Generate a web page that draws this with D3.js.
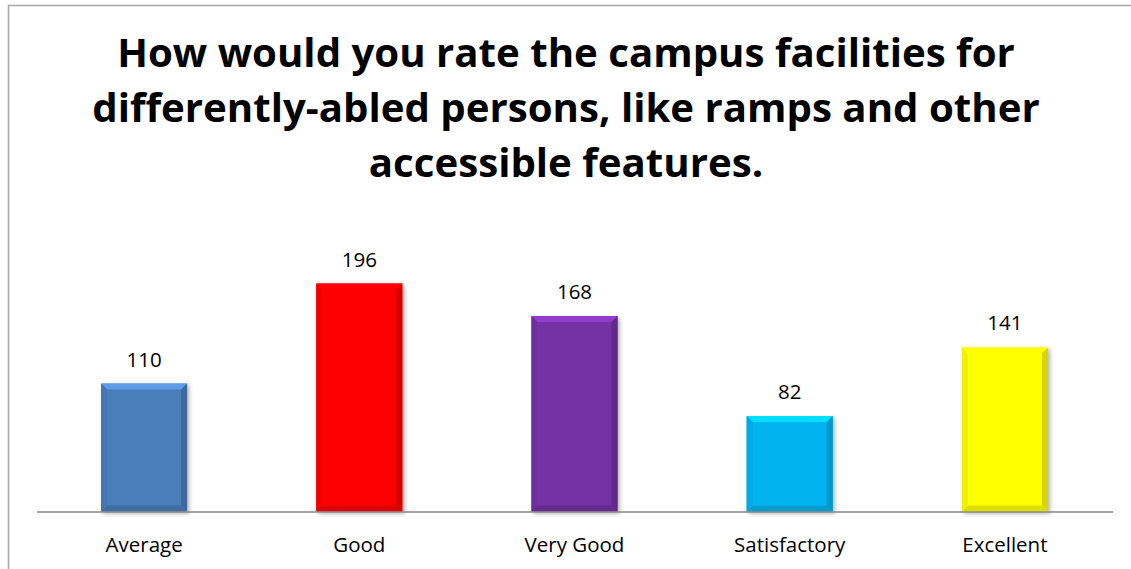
<!DOCTYPE html>
<html><head><meta charset="utf-8">
<script src="https://cdn.jsdelivr.net/npm/d3@7"></script>
<style>html,body{margin:0;padding:0;background:#fff;}svg{display:block;}</style>
</head><body>
<svg id="c" width="1131" height="569"></svg>
<script>
const titleLines = ["How would you rate the campus facilities for", "differently-abled persons, like ramps and other", "accessible features."];
const categories = ["Average", "Good", "Very Good", "Satisfactory", "Excellent"];
const values = [110, 196, 168, 82, 141];
const colors = ["#4a7ebb", "#ff0000", "#7432a4", "#00b4f0", "#ffff00"];

const svg = d3.select("#c");
const font = "'Open Sans', Lato, sans-serif";

svg.append("rect").attr("x", 8.5).attr("y", 5.5).attr("width", 1140).attr("height", 600)
  .attr("fill", "#fff").attr("stroke", "#a6a6a6").attr("stroke-width", 1.5);

const defs = svg.append("defs");
const f = defs.append("filter").attr("id", "sh").attr("x", "-20%").attr("y", "-20%").attr("width", "150%").attr("height", "150%");
f.append("feGaussianBlur").attr("in", "SourceAlpha").attr("stdDeviation", 2);
f.append("feOffset").attr("dx", 2).attr("dy", 2).attr("result", "ob");
f.append("feComponentTransfer").append("feFuncA").attr("type", "linear").attr("slope", 0.3);
const m = f.append("feMerge"); m.append("feMergeNode"); m.append("feMergeNode").attr("in", "SourceGraphic");

const x = d3.scaleBand().domain(categories).range([36.5, 1112.5]).paddingInner(0.6).paddingOuter(0.3);
const y = d3.scaleLinear().domain([0, 250]).range([511.5, 220.7]);

const t = svg.append("text").attr("text-anchor", "middle").attr("font-family", font)
  .attr("font-weight", "bold").attr("font-size", 40.2).attr("fill", "#000");
titleLines.forEach((l, i) => t.append("tspan").attr("x", 566).attr("y", 67 + i * 55).text(l));

const bw = x.bandwidth();
const bev = 6;
const g = svg.append("g");
categories.forEach((c, i) => {
  const x0 = x(c), x1 = x0 + bw, y0 = y(values[i]), y1 = y(0);
  const col = d3.color(colors[i]);
  const bg = g.append("g").attr("filter", "url(#sh)");
  bg.append("rect").attr("x", x0).attr("y", y0).attr("width", bw).attr("height", y1 - y0).attr("fill", col.formatHex());
  const pts = a => a.map(p => p.join(",")).join(" ");
  bg.append("polygon").attr("points", pts([[x0, y0], [x1, y0], [x1 - bev, y0 + bev], [x0 + bev, y0 + bev]]))
    .attr("fill", col.brighter(0.6).formatHex());
  bg.append("polygon").attr("points", pts([[x0, y0], [x0 + bev, y0 + bev], [x0 + bev, y1 - bev], [x0, y1]]))
    .attr("fill", col.darker(0.15).formatHex());
  bg.append("polygon").attr("points", pts([[x1, y0], [x1 - bev, y0 + bev], [x1 - bev, y1 - bev], [x1, y1]]))
    .attr("fill", col.darker(0.5).formatHex());
  bg.append("polygon").attr("points", pts([[x0, y1], [x0 + bev, y1 - bev], [x1 - bev, y1 - bev], [x1, y1]]))
    .attr("fill", col.darker(0.4).formatHex());
  g.append("text").attr("x", x0 + bw / 2).attr("y", y0 - 17).attr("text-anchor", "middle")
    .attr("font-family", font).attr("font-size", 20.5).attr("fill", "#000").text(values[i]);
});

const ax = svg.append("g").attr("transform", `translate(0,${y(0)})`)
  .call(d3.axisBottom(x).tickSize(0).tickPadding(0).tickSizeOuter(0));
ax.select(".domain").attr("stroke", "#868686").attr("stroke-width", 1.5);
ax.selectAll("text").attr("font-family", font).attr("font-size", 20.5).attr("fill", "#000")
  .attr("dy", null).attr("y", 40.5);
</script>
</body></html>
